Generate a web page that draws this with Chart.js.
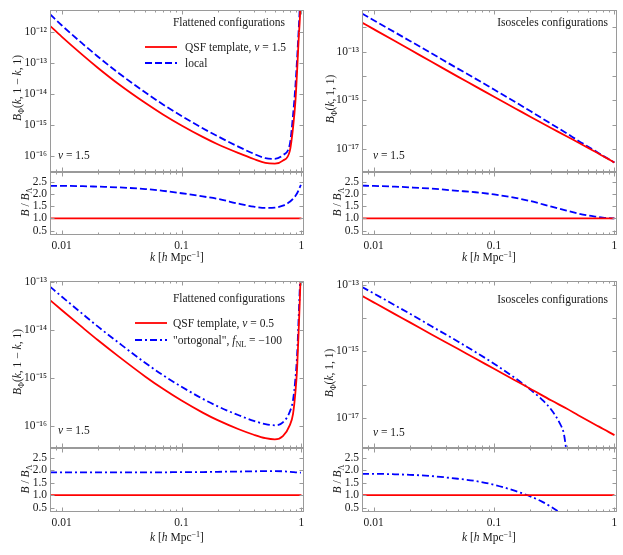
<!DOCTYPE html>
<html>
<head>
<meta charset="utf-8">
<script src="https://cdn.jsdelivr.net/npm/chart.js@4.4.1/dist/chart.umd.min.js"></script>
<style>
  html, body { margin: 0; padding: 0; background: #fff; }
  #wrap { position: relative; width: 623px; height: 555px; }
  #wrap canvas { position: absolute; left: 0; top: 0; }
</style>
</head>
<body>
<div id="wrap"></div>
<script>
// ---- data ----
// flattened configurations B(k, 1-k, 1)
const kFlat = [0.008, 0.01, 0.015, 0.02, 0.03, 0.05, 0.07, 0.1, 0.15, 0.2, 0.3, 0.4, 0.5, 0.6, 0.7, 0.8, 0.85, 0.89, 0.92, 0.95, 0.97, 0.98, 0.99];
const qsfFlat15 = [1.6e-12, 7.2e-13, 1.81e-13, 7.1e-14, 2.07e-14, 5.1e-15, 2.18e-15, 9.6e-16, 4.1e-16, 2.37e-16, 1.22e-16, 7.9e-17, 5.9e-17, 5.6e-17, 7.0e-17, 1.45e-16, 7.9e-16, 5.6e-15, 5.6e-14, 7.1e-13, 2.8e-12, 7.9e-12, 3.2e-11];
const localFlat = [3.8e-12, 1.67e-12, 4.2e-13, 1.64e-13, 4.7e-14, 1.11e-14, 4.6e-15, 1.95e-15, 7.8e-16, 4.3e-16, 1.95e-16, 1.17e-16, 8.4e-17, 8.0e-17, 1.05e-16, 2.4e-16, 2.0e-15, 1.78e-14, 1.41e-13, 1.38e-12, 7.2e-12, 1.86e-11, 7.9e-11];
const localFlatRatio = [2.33, 2.33, 2.32, 2.30, 2.27, 2.20, 2.13, 2.03, 1.90, 1.80, 1.60, 1.48, 1.43, 1.44, 1.52, 1.68, 1.80, 1.92, 2.03, 2.17, 2.28, 2.33, 2.37];

const qsfFlat05 = [4.2e-14, 2.61e-14, 1.12e-14, 6.2e-15, 2.8e-15, 1.07e-15, 5.97e-16, 3.4e-16, 1.91e-16, 1.33e-16, 8.6e-17, 6.6e-17, 5.6e-17, 5.3e-17, 6.2e-17, 1.05e-16, 1.78e-16, 5.0e-16, 1.58e-15, 1.12e-14, 4.5e-14, 1.0e-13, 3.2e-13];
const orthFlat = [8.0e-14, 5.0e-14, 2.15e-14, 1.19e-14, 5.4e-15, 2.06e-15, 1.15e-15, 6.6e-16, 3.7e-16, 2.58e-16, 1.68e-16, 1.29e-16, 1.1e-16, 1.04e-16, 1.2e-16, 2.0e-16, 3.44e-16, 9.6e-16, 3.04e-15, 2.14e-14, 8.5e-14, 1.91e-13, 6.0e-13];
const orthFlatRatio = [1.92, 1.92, 1.92, 1.92, 1.92, 1.92, 1.92, 1.93, 1.93, 1.94, 1.95, 1.96, 1.97, 1.97, 1.96, 1.94, 1.93, 1.92, 1.92, 1.91, 1.91, 1.91, 1.91];

// isosceles configurations B(k, 1, 1)
const kIso = [0.008, 0.01, 0.015, 0.02, 0.03, 0.05, 0.07, 0.1, 0.15, 0.2, 0.3, 0.4, 0.5, 0.6, 0.7, 0.8, 0.9, 1.0];
const qsfIso15 = [1.58e-12, 8.5e-13, 2.75e-13, 1.23e-13, 3.98e-14, 9.5e-15, 3.8e-15, 1.41e-15, 4.7e-16, 2.14e-16, 7.2e-17, 3.4e-17, 1.86e-17, 1.15e-17, 7.6e-18, 5.2e-18, 3.8e-18, 2.8e-18];
const localIso = [3.71e-12, 1.98e-12, 6.3e-13, 2.79e-13, 8.8e-14, 2.03e-14, 7.9e-15, 2.8e-15, 8.6e-16, 3.66e-16, 1.07e-16, 4.5e-17, 2.23e-17, 1.29e-17, 8.1e-18, 5.4e-18, 3.84e-18, 2.8e-18];
const localIsoRatio = [2.34, 2.33, 2.30, 2.27, 2.22, 2.13, 2.07, 1.98, 1.84, 1.71, 1.48, 1.32, 1.20, 1.12, 1.07, 1.03, 1.01, 1.0];

const qsfIso05 = [4.7e-14, 3.0e-14, 1.33e-14, 7.5e-15, 3.3e-15, 1.2e-15, 6.1e-16, 3.0e-16, 1.33e-16, 7.5e-17, 3.3e-17, 1.9e-17, 1.2e-17, 8.3e-18, 6.1e-18, 4.7e-18, 3.7e-18, 3.0e-18];
const kOrthIso = [0.008, 0.01, 0.015, 0.02, 0.03, 0.05, 0.07, 0.1, 0.15, 0.2, 0.25, 0.3, 0.35, 0.38, 0.4];
const orthIso = [8.7e-14, 5.6e-14, 2.45e-14, 1.36e-14, 5.8e-15, 1.99e-15, 9.6e-16, 4.26e-16, 1.56e-16, 7.1e-17, 3.55e-17, 1.72e-17, 7.0e-18, 3.3e-18, 9.5e-19];
const kOrthIsoRatio = [0.008, 0.01, 0.015, 0.02, 0.03, 0.05, 0.07, 0.1, 0.15, 0.2, 0.25, 0.3, 0.35, 0.38, 0.4, 0.45];
const orthIsoRatio = [1.86, 1.86, 1.84, 1.82, 1.77, 1.66, 1.57, 1.42, 1.17, 0.95, 0.74, 0.52, 0.30, 0.16, 0.05, -0.3];

// reference line B/B_QSF = 1
const kUnit = [0.008, 1.0];
const unity = [1, 1];

// axis ranges and ticks
const kRange = [0.008, 1.05];
const xTicks = [0.01, 0.1, 1];
const xTickLabels = ['0.01', '0.1', '1'];
const ratioRange = [0.32, 2.9];
const ratioTicks = [0.5, 1.0, 1.5, 2.0, 2.5];
const ratioTickLabels = ['0.5', '1.0', '1.5', '2.0', '2.5'];
const yTicksTL = [1e-12, 1e-13, 1e-14, 1e-15, 1e-16];
const yLabelsTL = ['10⁻¹²', '10⁻¹³', '10⁻¹⁴', '10⁻¹⁵', '10⁻¹⁶'];
const yTicksBL = [1e-13, 1e-14, 1e-15, 1e-16];
const yLabelsBL = ['10⁻¹³', '10⁻¹⁴', '10⁻¹⁵', '10⁻¹⁶'];
const yTicksIso = [1e-13, 1e-15, 1e-17];
const yLabelsIso = ['10⁻¹³', '10⁻¹⁵', '10⁻¹⁷'];

// ---- layout / style ----
const W = 623, H = 555, YW = 44, XH = 22;
const SERIF = '"Liberation Serif", "Times New Roman", serif';
const RED = '#ff0000', BLUE = '#0000ff';
const DASH = [7, 3], DASHDOT = [7, 3, 2, 3];
Chart.defaults.font.family = SERIF;
Chart.defaults.font.size = 11.5;
Chart.defaults.color = '#1a1a1a';

const pts = (xs, ys) => xs.map((x, i) => ({x: x, y: ys[i]}));

function parseRich(str) {
    const out = [];
    str.replace(/\*([^*]+)\*|_([^_]+)_|\^([^^]+)\^|([^*_^]+)/g, (m, it, sub, sup, plain) => {
        if (it) out.push({t: it, i: true});
        else if (sub) out.push({t: sub, sub: true});
        else if (sup) out.push({t: sup, sup: true});
        else out.push({t: plain});
        return m;
    });
    return out;
}

function drawRich(ctx, str, x, y, align, rot, size) {
    size = size || 11.5;
    const segs = parseRich(str);
    const fontOf = s => (s.i ? 'italic ' : '') + ((s.sub || s.sup) ? size * 0.7 : size) + 'px ' + SERIF;
    let total = 0;
    segs.forEach(s => {
        ctx.font = fontOf(s);
        s.w = ctx.measureText(s.t).width;
        total += s.w;
    });
    ctx.save();
    ctx.translate(x, y);
    if (rot) ctx.rotate(rot);
    let cx = align === 'right' ? -total : align === 'center' ? -total / 2 : 0;
    ctx.textBaseline = 'alphabetic';
    ctx.fillStyle = '#1a1a1a';
    segs.forEach(s => {
        ctx.font = fontOf(s);
        const dy = s.sub ? size * 0.22 : s.sup ? -size * 0.38 : 0;
        ctx.fillText(s.t, cx, dy + size * 0.35);
        cx += s.w;
    });
    ctx.restore();
}

// frame with inward ticks on all four sides
const framePlugin = {
    id: 'frame',
    afterDatasetsDraw(chart, args, o) {
        const {ctx, chartArea: a} = chart;
        const xs = chart.scales.x, ys = chart.scales.y;
        const L = Math.round(a.left) + 0.5, R = Math.round(a.right) - 0.5;
        const T = Math.round(a.top) + 0.5, B = Math.round(a.bottom) - 0.5;
        ctx.save();
        ctx.strokeStyle = '#9a9a9a';
        ctx.lineWidth = 1;
        ctx.strokeRect(L, T, R - L, B - T);
        ctx.beginPath();
        const vTick = (v, len) => {
            const px = Math.round(xs.getPixelForValue(v)) + 0.5;
            if (px < L || px > R) return;
            ctx.moveTo(px, T); ctx.lineTo(px, T + len);
            ctx.moveTo(px, B); ctx.lineTo(px, B - len);
        };
        const hTick = (v, len) => {
            const py = Math.round(ys.getPixelForValue(v)) + 0.5;
            if (py < T || py > B) return;
            ctx.moveTo(L, py); ctx.lineTo(L + len, py);
            ctx.moveTo(R, py); ctx.lineTo(R - len, py);
        };
        for (let e = -3; e <= 0; e++) {
            for (let m = 1; m <= 9; m++) {
                const v = m * Math.pow(10, e);
                if (v >= xs.min && v <= xs.max) vTick(v, m === 1 ? 4 : 2);
            }
        }
        if (o.marks) {
            o.marks.forEach(v => hTick(v, 4));
        } else {
            const e0 = Math.ceil(Math.log10(ys.min)), e1 = Math.floor(Math.log10(ys.max));
            for (let e = e0; e <= e1; e++) hTick(Math.pow(10, e), 4);
        }
        ctx.stroke();
        ctx.restore();
    }
};

// free text and inset legend
const notesPlugin = {
    id: 'notes',
    afterDraw(chart, args, o) {
        const ctx = chart.ctx;
        (o.items || []).forEach(n => drawRich(ctx, n.text, n.x, n.y, n.align, n.rot, n.size));
        if (o.legend) {
            const lg = o.legend;
            chart.data.datasets.forEach((ds, i) => {
                const y = lg.ys[i];
                ctx.save();
                ctx.strokeStyle = ds.borderColor;
                ctx.lineWidth = ds.borderWidth;
                ctx.setLineDash(ds.borderDash || []);
                ctx.beginPath();
                ctx.moveTo(lg.x0, y);
                ctx.lineTo(lg.x1, y);
                ctx.stroke();
                ctx.restore();
                drawRich(ctx, lg.labels[i], lg.tx, y, 'left');
            });
        }
    }
};

const wrap = document.getElementById('wrap');

function makePanel(area, spec) {
    const cv = document.createElement('canvas');
    cv.width = W;
    cv.height = H;
    wrap.appendChild(cv);
    const showX = !!spec.showX;
    const isLog = spec.yType === 'logarithmic';
    return new Chart(cv, {
        type: 'line',
        data: {datasets: spec.datasets},
        options: {
            responsive: false,
            animation: false,
            events: [],
            layout: {
                padding: {left: area.l - YW, right: W - area.r, top: area.t, bottom: H - area.b - (showX ? XH : 0)}
            },
            elements: {
                point: {radius: 0},
                line: {cubicInterpolationMode: 'monotone', borderCapStyle: 'butt', fill: false}
            },
            plugins: {
                legend: {display: false},
                tooltip: {enabled: false},
                frame: {marks: isLog ? null : ratioTicks},
                notes: {items: spec.notes, legend: spec.legend}
            },
            scales: {
                x: {
                    type: 'logarithmic',
                    min: kRange[0],
                    max: kRange[1],
                    bounds: 'data',
                    display: showX,
                    grid: {display: false, drawTicks: false},
                    border: {display: false},
                    afterBuildTicks: s => { s.ticks = xTicks.map(v => ({value: v})); },
                    afterFit: s => { s.height = showX ? XH : 0; },
                    ticks: {
                        autoSkip: false, maxRotation: 0, padding: 4,
                        callback: (v, i) => xTickLabels[i]
                    }
                },
                y: {
                    type: spec.yType,
                    min: spec.yRange[0],
                    max: spec.yRange[1],
                    bounds: 'data',
                    grid: {display: false, drawTicks: false},
                    border: {display: false},
                    afterBuildTicks: s => { s.ticks = spec.yTicks.map(v => ({value: v})); },
                    afterFit: s => { s.width = YW; },
                    ticks: {
                        autoSkip: false, padding: 3,
                        callback: (v, i) => spec.yLabels[i]
                    }
                }
            }
        },
        plugins: [framePlugin, notesPlugin]
    });
}

const line = (label, xs, ys, color, dash) => ({
    label: label,
    data: pts(xs, ys),
    borderColor: color,
    borderWidth: 1.8,
    borderDash: dash || []
});

const yMainFlat = '*B*_Φ_(*k*, 1 − *k*, 1)';
const yMainIso = '*B*_Φ_(*k*, 1, 1)';
const yRatio = '*B* / *B*_Λ_';
const xTitle = '*k* [*h* Mpc^−1^]';
const nuNote = '*ν* = 1.5';

// top left: flattened, local
makePanel({l: 50, r: 304, t: 5, b: 172}, {
    yType: 'logarithmic', yRange: [3.0e-17, 5.25e-12], yTicks: yTicksTL, yLabels: yLabelsTL,
    datasets: [
        line('QSF template, ν = 1.5', kFlat, qsfFlat15, RED),
        line('local', kFlat, localFlat, BLUE, DASH)
    ],
    notes: [
        {text: yMainFlat, x: 17, y: 88, align: 'center', rot: -Math.PI / 2},
        {text: 'Flattened configurations', x: 285, y: 22, align: 'right'},
        {text: nuNote, x: 58, y: 155, align: 'left'}
    ],
    legend: {x0: 145, x1: 177, tx: 185, ys: [47, 63], labels: ['QSF template, *ν* = 1.5', 'local']}
});
makePanel({l: 50, r: 304, t: 172, b: 235}, {
    showX: true, yType: 'linear', yRange: ratioRange, yTicks: ratioTicks, yLabels: ratioTickLabels,
    datasets: [
        line('QSF', kUnit, unity, RED),
        line('local', kFlat, localFlatRatio, BLUE, DASH)
    ],
    notes: [
        {text: yRatio, x: 25, y: 202, align: 'center', rot: -Math.PI / 2},
        {text: xTitle, x: 177, y: 257, align: 'center'}
    ]
});

// top right: isosceles, local
makePanel({l: 362, r: 617, t: 5, b: 172}, {
    yType: 'logarithmic', yRange: [1.15e-18, 5.25e-12], yTicks: yTicksIso, yLabels: yLabelsIso,
    datasets: [
        line('QSF template, ν = 1.5', kIso, qsfIso15, RED),
        line('local', kIso, localIso, BLUE, DASH)
    ],
    notes: [
        {text: yMainIso, x: 330, y: 99, align: 'center', rot: -Math.PI / 2},
        {text: 'Isosceles configurations', x: 608, y: 22, align: 'right'},
        {text: nuNote, x: 373, y: 155, align: 'left'}
    ]
});
makePanel({l: 362, r: 617, t: 172, b: 235}, {
    showX: true, yType: 'linear', yRange: ratioRange, yTicks: ratioTicks, yLabels: ratioTickLabels,
    datasets: [
        line('QSF', kUnit, unity, RED),
        line('local', kIso, localIsoRatio, BLUE, DASH)
    ],
    notes: [
        {text: yRatio, x: 337, y: 202, align: 'center', rot: -Math.PI / 2},
        {text: xTitle, x: 489, y: 257, align: 'center'}
    ]
});

// bottom left: flattened, orthogonal
makePanel({l: 50, r: 304, t: 281, b: 448}, {
    yType: 'logarithmic', yRange: [3.5e-17, 1.05e-13], yTicks: yTicksBL, yLabels: yLabelsBL,
    datasets: [
        line('QSF template, ν = 0.5', kFlat, qsfFlat05, RED),
        line('"ortogonal", fNL = −100', kFlat, orthFlat, BLUE, DASHDOT)
    ],
    notes: [
        {text: yMainFlat, x: 17, y: 362, align: 'center', rot: -Math.PI / 2},
        {text: 'Flattened configurations', x: 285, y: 298, align: 'right'},
        {text: nuNote, x: 58, y: 430, align: 'left'}
    ],
    legend: {x0: 135, x1: 167, tx: 173, ys: [323, 340], labels: ['QSF template, *ν* = 0.5', '"ortogonal", *f*_NL_ = −100']}
});
makePanel({l: 50, r: 304, t: 448, b: 512}, {
    showX: true, yType: 'linear', yRange: ratioRange, yTicks: ratioTicks, yLabels: ratioTickLabels,
    datasets: [
        line('QSF', kUnit, unity, RED),
        line('orthogonal', kFlat, orthFlatRatio, BLUE, DASHDOT)
    ],
    notes: [
        {text: yRatio, x: 25, y: 479, align: 'center', rot: -Math.PI / 2},
        {text: xTitle, x: 177, y: 537, align: 'center'}
    ]
});

// bottom right: isosceles, orthogonal
makePanel({l: 362, r: 617, t: 281, b: 448}, {
    yType: 'logarithmic', yRange: [1.23e-18, 1.32e-13], yTicks: yTicksIso, yLabels: yLabelsIso,
    datasets: [
        line('QSF template, ν = 0.5', kIso, qsfIso05, RED),
        line('orthogonal', kOrthIso, orthIso, BLUE, DASHDOT)
    ],
    notes: [
        {text: yMainIso, x: 329, y: 373, align: 'center', rot: -Math.PI / 2},
        {text: 'Isosceles configurations', x: 608, y: 299, align: 'right'},
        {text: nuNote, x: 373, y: 432, align: 'left'}
    ]
});
makePanel({l: 362, r: 617, t: 448, b: 512}, {
    showX: true, yType: 'linear', yRange: ratioRange, yTicks: ratioTicks, yLabels: ratioTickLabels,
    datasets: [
        line('QSF', kUnit, unity, RED),
        line('orthogonal', kOrthIsoRatio, orthIsoRatio, BLUE, DASHDOT)
    ],
    notes: [
        {text: yRatio, x: 337, y: 479, align: 'center', rot: -Math.PI / 2},
        {text: xTitle, x: 489, y: 537, align: 'center'}
    ]
});
</script>
</body>
</html>
